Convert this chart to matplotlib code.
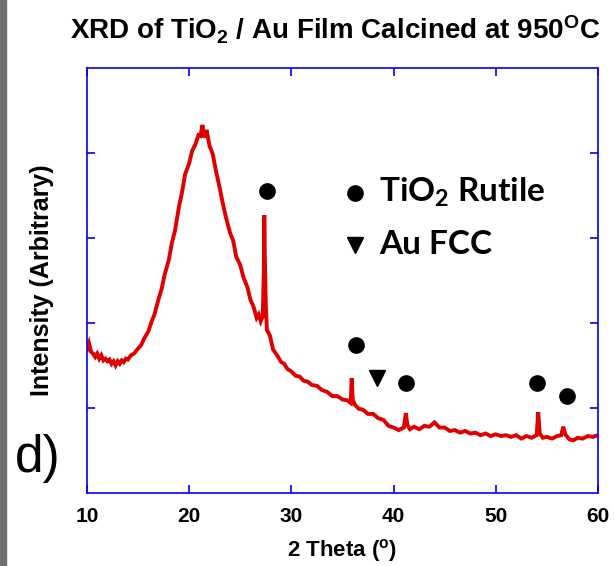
import matplotlib
matplotlib.use("Agg")
import matplotlib.pyplot as plt
from matplotlib.patches import Rectangle

plt.rcParams['font.family'] = ['Liberation Sans', 'DejaVu Sans']
plt.rcParams['mathtext.default'] = 'regular'

# XRD pattern (2 theta in degrees, arbitrary intensity)
two_theta = [10.0, 10.2, 10.4, 10.6, 10.8, 11.0, 11.2, 11.4, 11.6, 11.8, 12.0, 12.2,
             12.4, 12.6, 12.8, 13.0, 13.2, 13.4, 13.6, 13.8, 14.0, 14.3, 14.6, 15.0,
             15.3, 15.6, 16.0, 16.3, 16.6, 17.0, 17.3, 17.6, 18.0, 18.3, 18.6, 19.0,
             19.3, 19.6, 20.0, 20.3, 20.6, 20.9, 21.1, 21.3, 21.5, 21.7, 22.0, 22.3,
             22.6, 23.0, 23.3, 23.6, 24.0, 24.3, 24.6, 25.0, 25.3, 25.7, 26.0, 26.3,
             26.6, 26.8, 27.0, 27.2, 27.3, 27.35, 27.4, 27.5, 27.6, 27.9, 28.2, 28.6,
             29.0, 29.3, 29.6, 30.0, 30.4, 30.8, 31.2, 31.6, 32.0, 32.5, 33.0, 33.5,
             34.0, 34.5, 35.0, 35.5, 35.8, 35.9, 36.0, 36.2, 36.6, 37.0, 37.5, 38.0,
             38.5, 39.0, 39.5, 40.0, 40.5, 41.0, 41.2, 41.35, 41.6, 42.0, 42.5, 43.0,
             43.5, 44.0, 44.5, 45.0, 45.5, 46.0, 46.5, 47.0, 47.5, 48.0, 48.5, 49.0,
             49.5, 50.0, 50.5, 51.0, 51.5, 52.0, 52.5, 53.0, 53.5, 54.0, 54.15, 54.3,
             54.6, 55.0, 55.5, 56.0, 56.4, 56.6, 56.8, 57.2, 57.6, 58.0, 58.5, 59.0,
             59.5, 60.0]
intensity = [1.68, 1.76, 1.66, 1.64, 1.60, 1.64, 1.58, 1.62, 1.56, 1.58, 1.55, 1.57,
             1.52, 1.55, 1.50, 1.55, 1.52, 1.56, 1.54, 1.58, 1.57, 1.62, 1.64, 1.70,
             1.74, 1.82, 1.90, 2.01, 2.10, 2.28, 2.40, 2.57, 2.74, 2.94, 3.08, 3.37,
             3.54, 3.75, 3.88, 4.03, 4.10, 4.21, 4.20, 4.33, 4.18, 4.27, 4.08, 3.99,
             3.80, 3.58, 3.40, 3.24, 3.06, 2.97, 2.78, 2.68, 2.54, 2.42, 2.27, 2.19,
             2.06, 2.10, 2.02, 2.08, 2.62, 3.27, 2.78, 2.20, 1.92, 1.85, 1.69, 1.62,
             1.54, 1.52, 1.46, 1.43, 1.38, 1.37, 1.32, 1.31, 1.27, 1.26, 1.21, 1.19,
             1.14, 1.14, 1.10, 1.09, 1.06, 1.35, 1.10, 1.04, 0.99, 0.98, 0.93, 0.93,
             0.88, 0.86, 0.79, 0.77, 0.74, 0.77, 0.94, 0.80, 0.75, 0.78, 0.75, 0.79,
             0.78, 0.83, 0.77, 0.77, 0.73, 0.74, 0.71, 0.73, 0.70, 0.71, 0.68, 0.70,
             0.67, 0.69, 0.67, 0.68, 0.66, 0.68, 0.64, 0.67, 0.65, 0.68, 0.95, 0.70,
             0.65, 0.66, 0.64, 0.67, 0.68, 0.78, 0.69, 0.63, 0.62, 0.65, 0.64, 0.67,
             0.66, 0.68]

# phase markers
rutile_x = [27.6, 36.3, 41.2, 54.0, 57.0]
rutile_y = [3.55, 1.74, 1.29, 1.29, 1.14]
au_x = [38.4]
au_y = [1.35]

xticks = [10, 20, 30, 40, 50, 60]
yticks = [1, 2, 3, 4]

fig = plt.figure(figsize=(6.14, 5.66), dpi=100)
fig.patches.append(Rectangle((0, 0), 6 / 614, 1, transform=fig.transFigure,
                             color='#707070', zorder=0))
ax = fig.add_axes([87 / 614, 73 / 566, 511 / 614, 425 / 566])

ax.plot(two_theta, intensity, color='#e00000', lw=2.8, solid_joinstyle='miter')
ax.plot(rutile_x, rutile_y, 'o', color='black', ms=11)
ax.plot(au_x, au_y, 'v', color='black', ms=11.5)

# legend drawn by hand
ax.plot([36.2], [3.53], 'o', color='black', ms=11)
ax.plot([36.2], [2.92], 'v', color='black', ms=11.5)
ax.text(38.6, 3.53, 'TiO$_2$ Rutile', fontsize=24, fontweight='bold',
        family=['Lato', 'DejaVu Sans'], va='center', ha='left')
ax.text(38.6, 2.92, 'Au FCC', fontsize=24, fontweight='bold',
        family=['Lato', 'DejaVu Sans'], va='center', ha='left')

ax.set_xlim(10, 60)
ax.set_ylim(0, 5)
ax.set_xticks(xticks)
ax.set_yticks(yticks)
ax.set_yticklabels([])
for lab in ax.get_xticklabels():
    lab.set_fontweight('bold')
    lab.set_fontsize(15)

for sp in ax.spines.values():
    sp.set_color('#0000ff')
    sp.set_linewidth(1.2)
ax.tick_params(direction='in', length=6, width=1.2, color='#0000ff',
               top=True, right=True, pad=10)

ax.set_xlabel('2 Theta ($^{o}$)', fontsize=16, fontweight='bold', labelpad=8)
fig.text(42 / 614, 1 - 280 / 566, 'Intensity (Arbitrary)', rotation=90,
         fontsize=18, fontweight='bold', ha='center', va='center')
fig.text(335 / 614, 1 - 30 / 566, 'XRD of TiO$_2$ / Au Film Calcined at 950$^{O}$C',
         fontsize=20, fontweight='bold', ha='center', va='center')
fig.text(15 / 614, 1 - 472 / 566, 'd)', fontsize=37, ha='left', va='baseline')

fig.savefig('out.png', dpi=100)
